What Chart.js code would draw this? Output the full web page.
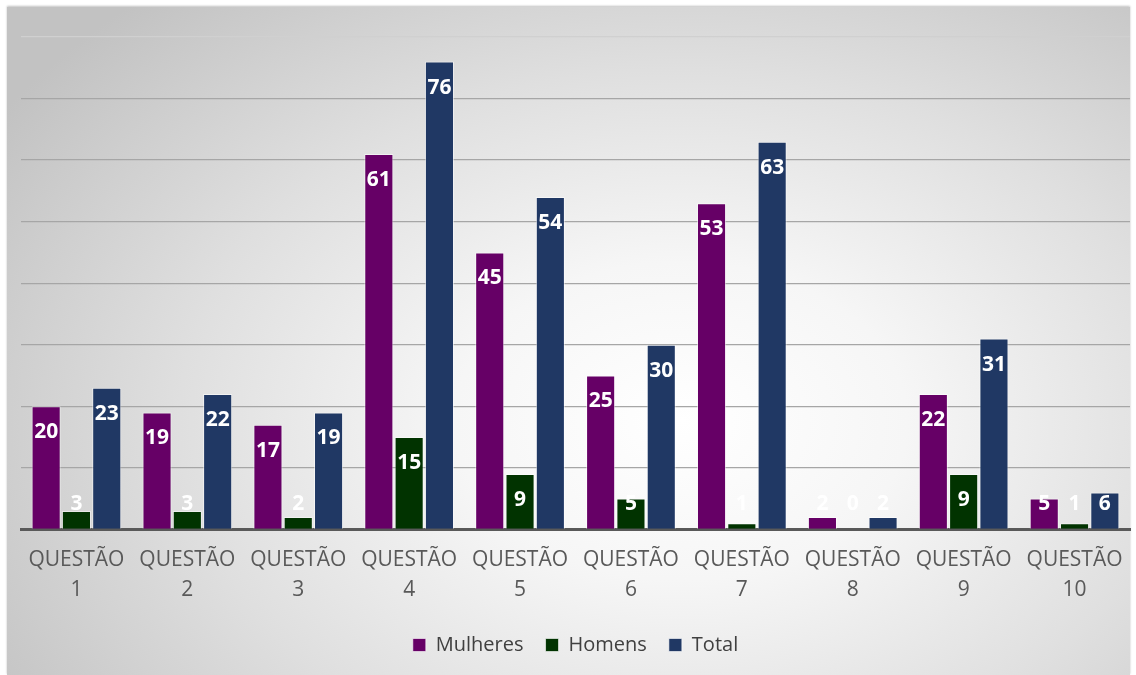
<!DOCTYPE html>
<html>
<head>
<meta charset="utf-8">
<script src="https://cdn.jsdelivr.net/npm/chart.js@4.4.0/dist/chart.umd.min.js"></script>
<style>
  html, body { margin: 0; padding: 0; background: #fff; }
  #frame {
    position: absolute; left: 7px; top: 7px; width: 1123px; height: 668px;
    background: radial-gradient(ellipse 72% 85% at 60% 62%, #ffffff 0%, #f6f6f6 28%, #dfdfdf 62%, #c2c2c2 100%);
    box-shadow: 0 -1px 2px rgba(0,0,0,0.25);
  }
  #wrap { position: absolute; left: 0; top: 0; width: 1136px; height: 675px; }
</style>
</head>
<body>
<div id="frame"></div>
<div id="wrap"><canvas id="chart"></canvas></div>
<script>
// Respostas por questão
var categories = ['1', '2', '3', '4', '5', '6', '7', '8', '9', '10'];
var mulheres = [20, 19, 17, 61, 45, 25, 53, 2, 22, 5];
var homens = [3, 3, 2, 15, 9, 5, 1, 0, 9, 1];
var total = [23, 22, 19, 76, 54, 30, 63, 2, 31, 6];
var yTicks = [0, 10, 20, 30, 40, 50, 60, 70, 80];

var fontFamily = "'Open Sans', 'Noto Sans', sans-serif";

// white value labels near the top of each bar
var valueLabels = {
    id: 'valueLabels',
    afterDatasetsDraw: function(chart) {
        var ctx = chart.ctx;
        var base = chart.scales.y.getPixelForValue(0);
        ctx.save();
        ctx.font = 'bold 21px ' + fontFamily;
        ctx.fillStyle = '#ffffff';
        ctx.textAlign = 'center';
        ctx.textBaseline = 'middle';
        chart.data.datasets.forEach(function(ds, i) {
            chart.getDatasetMeta(i).data.forEach(function(bar, j) {
                var y = Math.min(bar.y + 26, base - 25);
                ctx.fillText(String(ds.data[j]), bar.x, y);
            });
        });
        ctx.restore();
    }
};

var ctx = document.getElementById('chart').getContext('2d');
var chart = new Chart(ctx, {
    type: 'bar',
    data: {
        labels: categories.map(function(c) { return ['QUESTÃO', c]; }),
        datasets: [{
            label: 'Mulheres',
            data: mulheres,
            backgroundColor: '#660066',
            borderColor: 'rgba(255,255,255,0.55)',
            borderWidth: 1
        }, {
            label: 'Homens',
            data: homens,
            backgroundColor: '#013300',
            borderColor: 'rgba(255,255,255,0.45)',
            borderWidth: 1
        }, {
            label: 'Total',
            data: total,
            backgroundColor: '#203864',
            borderColor: 'rgba(255,255,255,0.55)',
            borderWidth: 1
        }]
    },
    options: {
        responsive: true,
        maintainAspectRatio: false,
        animation: false,
        layout: { padding: { left: 21, right: 6, top: 37, bottom: 10 } },
        datasets: { bar: { categoryPercentage: 0.82, barPercentage: 0.96 } },
        plugins: {
            tooltip: { enabled: false },
            legend: {
                position: 'bottom',
                labels: {
                    color: '#404040',
                    font: { family: fontFamily, size: 20 },
                    boxWidth: 13,
                    boxHeight: 13,
                    padding: 22,
                    generateLabels: function(chart) {
                        return chart.data.datasets.map(function(ds, i) {
                            return {
                                text: ds.label,
                                fillStyle: ds.backgroundColor,
                                strokeStyle: 'rgba(255,255,255,0.6)',
                                lineWidth: 1,
                                fontColor: '#404040',
                                datasetIndex: i
                            };
                        });
                    }
                }
            }
        },
        scales: {
            x: {
                grid: { display: false },
                border: { color: '#595959', width: 3 },
                ticks: {
                    color: '#595959',
                    font: { family: fontFamily, size: 21, lineHeight: 1.42 },
                    maxRotation: 0,
                    autoSkip: false,
                    padding: 8
                }
            },
            y: {
                min: 0,
                max: 80,
                afterBuildTicks: function(scale) {
                    scale.ticks = yTicks.map(function(v) { return { value: v }; });
                },
                ticks: { display: false },
                border: { display: false },
                grid: {
                    color: function(c) { return c.tick.value === 80 ? '#d0d0d0' : '#a6a6a6'; },
                    lineWidth: 1.2,
                    drawTicks: false
                }
            }
        }
    },
    plugins: [valueLabels]
});
</script>
</body>
</html>
